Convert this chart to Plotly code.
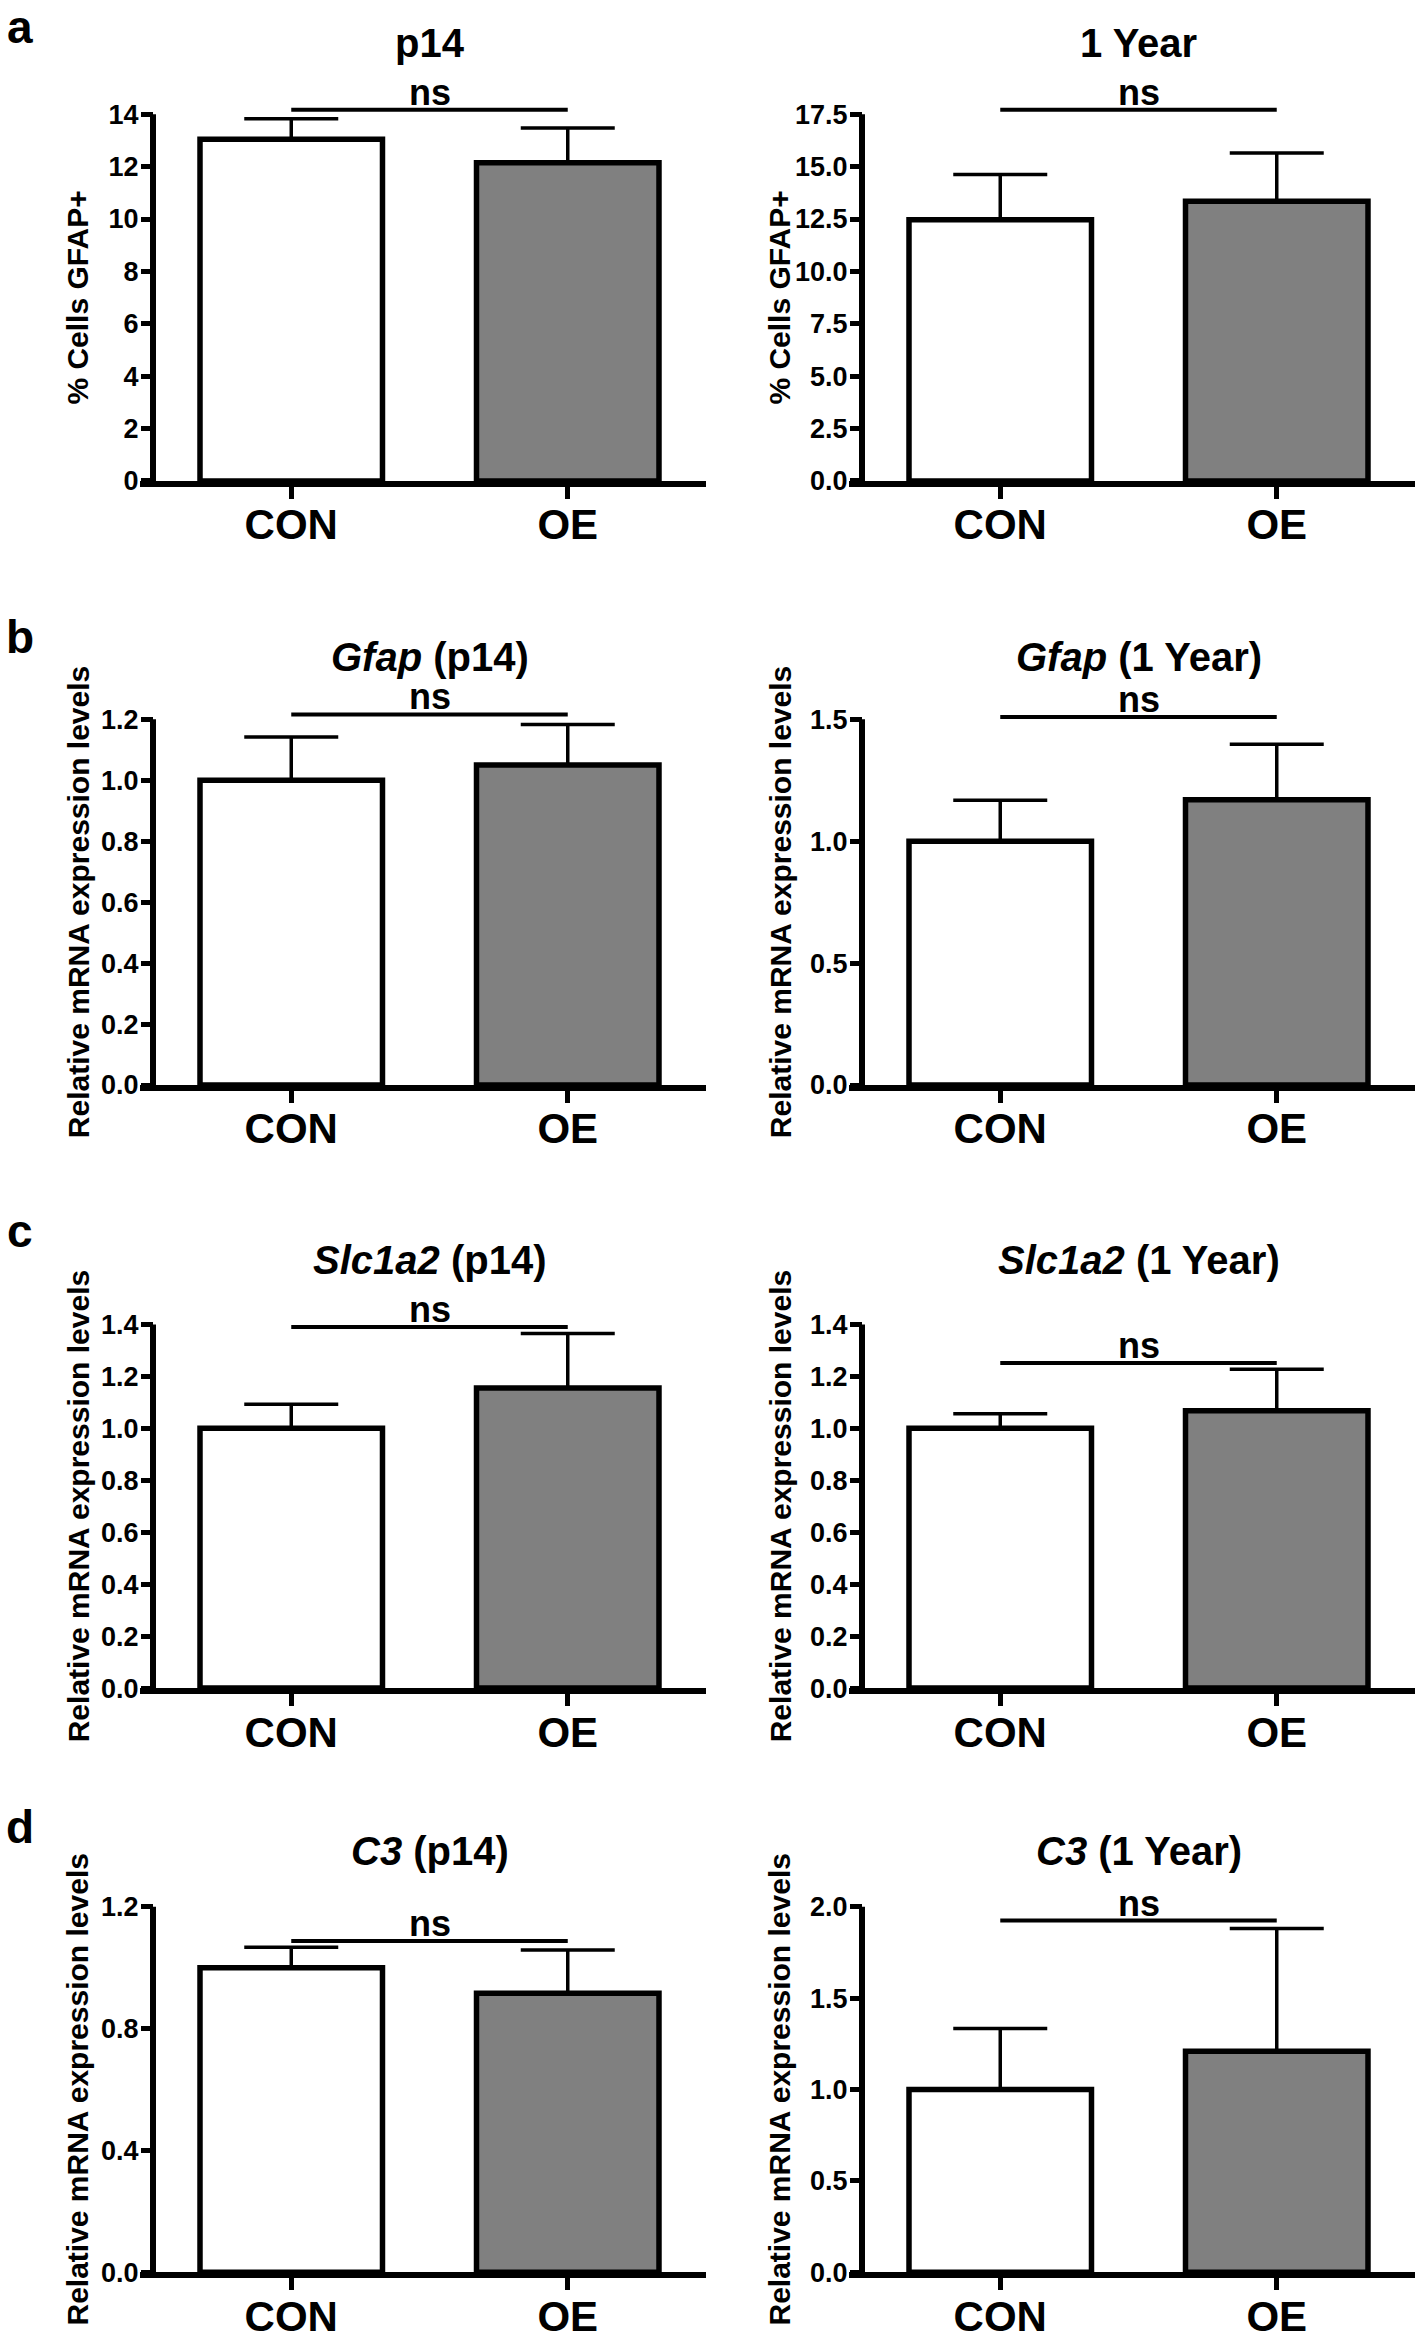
import plotly.graph_objects as go

W, H = 1418, 2342

# ---------------- data ----------------
categories = ["CON", "OE"]
panel_titles = ["<b>p14</b>", "<b>1 Year</b>",
                "<b><i>Gfap</i> (p14)</b>", "<b><i>Gfap</i> (1 Year)</b>",
                "<b><i>Slc1a2</i> (p14)</b>", "<b><i>Slc1a2</i> (1 Year)</b>",
                "<b><i>C3</i> (p14)</b>", "<b><i>C3</i> (1 Year)</b>"]
con_means = [13.05, 12.47, 1.00, 1.00, 1.00, 1.00, 1.00, 1.00]
oe_means = [12.15, 13.35, 1.05, 1.17, 1.155, 1.068, 0.916, 1.21]
con_sem = [0.78, 2.15, 0.142, 0.168, 0.093, 0.056, 0.067, 0.334]
oe_sem = [1.33, 2.30, 0.133, 0.228, 0.21, 0.16, 0.142, 0.671]
ns_heights = [14.17, 17.71, 1.216, 1.51, 1.39, 1.252, 1.0875, 1.924]
y_tick_max = [14, 17.5, 1.2, 1.5, 1.4, 1.4, 1.2, 2.0]
y_tick_step = [2, 2.5, 0.2, 0.5, 0.2, 0.2, 0.4, 0.5]
y_tick_fmt = ["{:.0f}", "{:.1f}", "{:.1f}", "{:.1f}", "{:.1f}", "{:.1f}", "{:.1f}", "{:.1f}"]
y_titles = ["% Cells GFAP+", "% Cells GFAP+"] + ["Relative mRNA expression levels"] * 6
panel_letters = ["a", "b", "c", "d"]
sig_label = "ns"

# ---------------- layout geometry (pixels) ----------------
row_top = [115, 724, 1333, 1919]      # pixel of top tick
row_zero = [484, 1092, 1699, 2287]    # pixel of zero line
row_title = [43, 661, 1268, 1863]
row_letter = [27, 641, 1239, 1839]
col_off = [0, 709]
ax_left, ax_right, yline_px = 140, 706, 153
ytitle_px = [78, 71]

FONT = "Liberation Sans, Arial, Helvetica, sans-serif"

fig = go.Figure()
shapes, annotations = [], []
layout_axes = {}

for i in range(8):
    r, c = divmod(i, 2)
    n = i + 1
    xs = "" if n == 1 else str(n)
    xa, ya = "x" + xs, "y" + xs
    off = col_off[c]

    top, zero = row_top[r], row_zero[r]
    dom_top_px = row_title[r] + 24
    ytop = y_tick_max[i] * (zero - dom_top_px) / (zero - top)

    nt = int(round(y_tick_max[i] / y_tick_step[i]))
    tv = [k * y_tick_step[i] for k in range(nt + 1)]
    tt = [y_tick_fmt[i].format(v) for v in tv]

    fig.add_trace(go.Bar(
        x=[0, 1], y=[con_means[i], oe_means[i]],
        width=0.66,
        marker=dict(color=["#ffffff", "#808080"], line=dict(color="black", width=5.5)),
        error_y=dict(type="data", symmetric=False, array=[con_sem[i], oe_sem[i]],
                     arrayminus=[0, 0], color="black", thickness=3.5, width=47),
        xaxis=xa, yaxis=ya, showlegend=False, hoverinfo="skip",
    ))

    layout_axes["xaxis" + xs] = dict(
        domain=[(ax_left + off) / W, (ax_right + off) / W],
        range=[-0.547, 1.5], anchor=ya,
        showline=True, linewidth=6, linecolor="black",
        ticks="outside", ticklen=12, tickwidth=5, tickcolor="black",
        tickvals=[0, 1], ticktext=categories, ticklabelstandoff=-10,
        tickfont=dict(family=FONT, size=42, color="black", weight="bold"),
        showgrid=False, zeroline=False, fixedrange=True,
    )
    layout_axes["yaxis" + xs] = dict(
        domain=[1 - zero / H, 1 - dom_top_px / H],
        range=[0, ytop], anchor="free", position=(yline_px + off) / W,
        showline=False,
        ticks="outside", ticklen=12, tickwidth=5, tickcolor="black",
        tickvals=tv, ticktext=tt, ticklabelstandoff=-3,
        tickfont=dict(family=FONT, size=27, color="black", weight="bold"),
        showgrid=False, zeroline=False, fixedrange=True,
    )

    # y axis line (from 0 to top tick)
    shapes.append(dict(type="line", xref=xa, yref=ya, x0=-0.5, x1=-0.5,
                       y0=0, y1=y_tick_max[i], line=dict(color="black", width=6)))
    # significance bar
    shapes.append(dict(type="line", xref=xa, yref=ya, x0=0, x1=1,
                       y0=ns_heights[i], y1=ns_heights[i],
                       line=dict(color="black", width=4)))
    annotations.append(dict(x=0.5, y=ns_heights[i], xref=xa, yref=ya,
                            text="<b>" + sig_label + "</b>", showarrow=False,
                            yanchor="bottom", yshift=-5,
                            font=dict(family=FONT, size=36, color="black")))
    # panel title
    annotations.append(dict(x=0.5, xref=xa, y=1 - row_title[r] / H, yref="paper",
                            text=panel_titles[i], showarrow=False, yanchor="middle",
                            font=dict(family=FONT, size=40, color="black")))
    # y axis title
    annotations.append(dict(x=(ytitle_px[c] + off) / W, xref="paper",
                            y=y_tick_max[i] / 2, yref=ya, textangle=-90,
                            text="<b>" + y_titles[i] + "</b>", showarrow=False,
                            xanchor="center", yanchor="middle",
                            font=dict(family=FONT, size=30, color="black")))

for r, letter in enumerate(panel_letters):
    annotations.append(dict(x=20 / W, y=1 - row_letter[r] / H, xref="paper", yref="paper",
                            text="<b>" + letter + "</b>", showarrow=False,
                            xanchor="center", yanchor="middle",
                            font=dict(family=FONT, size=46, color="black")))

fig.update_layout(
    width=W, height=H, margin=dict(l=0, r=0, t=0, b=0),
    paper_bgcolor="white", plot_bgcolor="rgba(0,0,0,0)",
    font=dict(family=FONT, color="black"),
    shapes=shapes, annotations=annotations, showlegend=False,
    **layout_axes,
)

fig.write_html("out.html", config={"displayModeBar": False},
               post_script="document.body.style.margin='0';document.body.style.overflow='hidden';")
